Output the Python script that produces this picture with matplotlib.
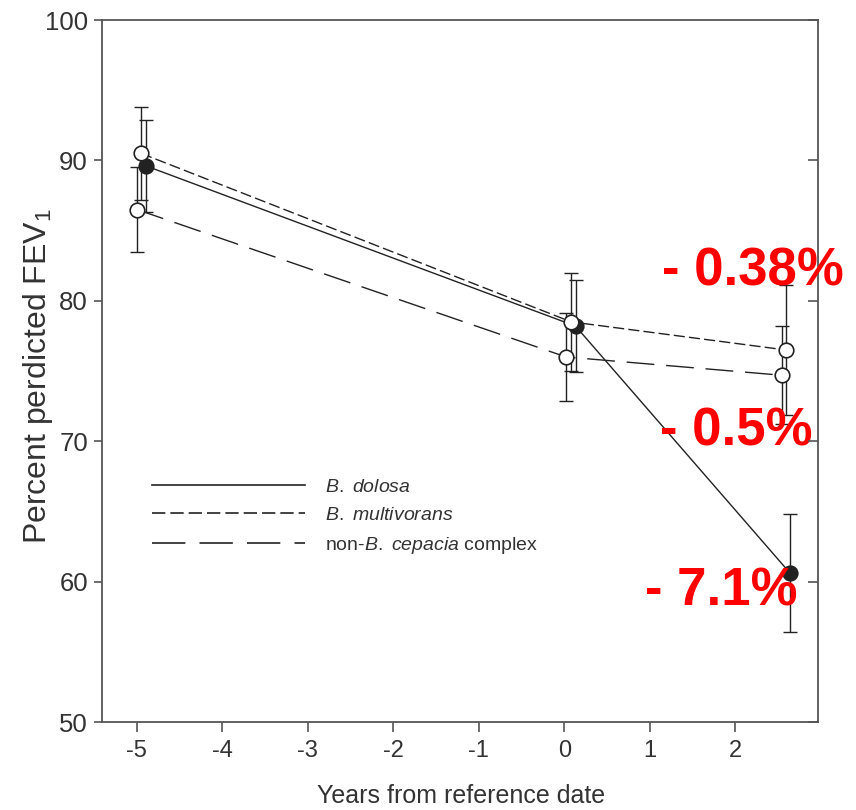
import matplotlib
matplotlib.use("Agg")
import matplotlib.pyplot as plt
from matplotlib.lines import Line2D

plt.rcParams['font.family'] = ['Liberation Sans', 'DejaVu Sans']
plt.rcParams['mathtext.fontset'] = 'custom'
plt.rcParams['mathtext.rm'] = 'Liberation Sans'
plt.rcParams['mathtext.it'] = 'Liberation Sans:italic'
plt.rcParams['axes.unicode_minus'] = False

# dane
dolosa_x = [-4.89, 0.13, 2.64]
dolosa_y = [89.6, 78.2, 60.6]
dolosa_err = [3.3, 3.3, 4.2]

multi_x = [-4.95, 0.08, 2.59]
multi_y = [90.5, 78.5, 76.5]
multi_err = [3.3, 3.5, 4.6]

non_x = [-5.0, 0.02, 2.54]
non_y = [86.5, 76.0, 74.7]
non_err = [3.0, 3.1, 3.5]

labels = ['$\\it{B.}$ $\\it{dolosa}$', '$\\it{B.}$ $\\it{multivorans}$',
          'non-$\\it{B.}$ $\\it{cepacia}$ complex']
notes = ['- 0.38%', '- 0.5%', '- 7.1%']
note_x = [1.145, 1.12, 0.946]
note_y = [81.1, 69.7, 58.3]

line_col = '#222222'
spine_col = '#555555'
text_col = '#333333'
short_dash = (0, (8, 3))
long_dash = (0, (20, 8.5))

fig = plt.figure(figsize=(8.56, 8.10), dpi=100)
ax = fig.add_axes([0.119, 0.1086, 0.837, 0.8667])

series = [
    (dolosa_x, dolosa_y, dolosa_err, '-', line_col),
    (multi_x, multi_y, multi_err, short_dash, 'white'),
    (non_x, non_y, non_err, long_dash, 'white'),
]
for xs, ys, errs, ls, face in series:
    ax.errorbar(xs, ys, yerr=errs, fmt='none', ecolor=line_col, elinewidth=1.0,
                capsize=5, capthick=1.0, zorder=2)
    ax.plot(xs, ys, linestyle=ls, color=line_col, lw=1.0, marker='o', markersize=10.5,
            markerfacecolor=face, markeredgecolor=line_col, markeredgewidth=1.2, zorder=3)

ax.set_xlim(-5.41, 2.97)
ax.set_ylim(50, 100)
ax.set_xticks(range(-5, 3))
ax.set_yticks(range(50, 101, 10))

for s in ax.spines.values():
    s.set_color(spine_col)
    s.set_linewidth(1.3)

ax.tick_params(axis='x', labelsize=17, colors=spine_col, labelcolor=text_col,
               direction='out', length=7, width=1.2, pad=6)
ax.tick_params(axis='y', labelsize=18.5, colors=spine_col, labelcolor=text_col,
               direction='out', length=6, width=1.2, pad=4)

# prawa oś - kreski do środka
ax2 = ax.twinx()
ax2.set_ylim(ax.get_ylim())
ax2.set_yticks(range(50, 101, 10))
ax2.tick_params(axis='y', direction='in', length=7, width=1.2, colors=spine_col, labelright=False)
for s in ax2.spines.values():
    s.set_visible(False)

ax.set_xlabel('Years from reference date', fontsize=18, color=text_col)
ax.xaxis.set_label_coords(0.501, -0.088)
ax.set_ylabel('Percent perdicted FEV$_1$', fontsize=23, color=text_col)
ax.yaxis.set_label_coords(-0.066, 0.493)

handles = [
    Line2D([], [], color=line_col, lw=1.2, linestyle='-'),
    Line2D([], [], color=line_col, lw=1.2, linestyle=short_dash),
    Line2D([], [], color=line_col, lw=1.2, linestyle=long_dash),
]
ax.legend(handles, labels, loc='center left', bbox_to_anchor=(0.0698, 0.292), frameon=False,
          fontsize=14, handlelength=7.9, handletextpad=1.0, labelspacing=0.55,
          borderpad=0, borderaxespad=0, labelcolor=text_col)

for txt, x, y in zip(notes, note_x, note_y):
    ax.text(x, y, txt, color='#ff0000', fontsize=38, fontweight='bold', va='baseline',
            ha='left', zorder=5, clip_on=False)

fig.savefig('out.png', dpi=100)
